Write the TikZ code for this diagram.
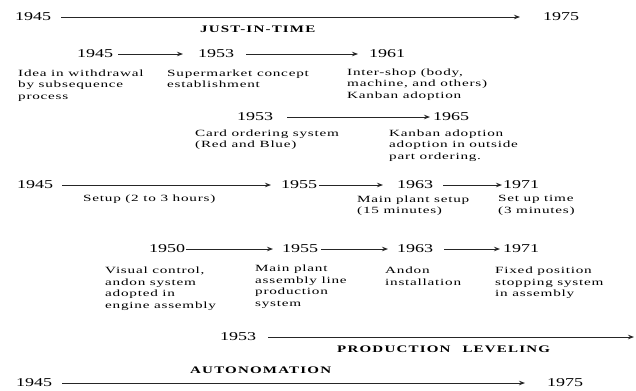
\documentclass[tikz,border=0pt]{standalone}
\usepackage{fontspec}
\usetikzlibrary{arrows.meta}
\newfontfamily\yearfont[FakeStretch=1.5]{Liberation Serif}
\newfontfamily\bodyfont[FakeStretch=1.6,LetterSpace=8]{Liberation Serif}
\newfontfamily\headfont[FakeStretch=1.5,LetterSpace=12]{Liberation Serif}
\tikzset{
  year/.style={inner sep=0, anchor=west, font=\yearfont\fontsize{12bp}{14bp}\selectfont},
  desc/.style={inner sep=0, anchor=north west, align=left, font=\bodyfont\fontsize{9.5bp}{11.7bp}\selectfont},
  head/.style={inner sep=0, anchor=west, font=\headfont\bfseries\fontsize{10bp}{11bp}\selectfont},
  arr/.style={-{Stealth[length=6bp,width=4.5bp]}, line width=0.9bp, draw=black!85},
}
\begin{document}
\begin{tikzpicture}[x=1bp,y=-1bp]
\useasboundingbox (0,0) rectangle (636,390);
% Row 1
\node[year] (r1a) at (15,17) {1945};
\node[year] (r1b) at (543,17) {1975};
\draw[arr, shorten <=10bp, shorten >=23bp] (r1a.east) -- (r1b.west);
\node[head] (jit) at (200,29) {JUST-IN-TIME};
% Row 2
\node[year] (r2a) at (77,54) {1945};
\node[year] (r2b) at (198,54) {1953};
\node[year] (r2c) at (369,54) {1961};
\draw[arr, shorten <=5bp, shorten >=15bp] (r2a.east) -- (r2b.west);
\draw[arr, shorten <=12bp, shorten >=11bp] (r2b.east) -- (r2c.west);
\node[desc] (t2a) at (18,69.5) {Idea in withdrawal\\by subsequence\\process};
\node[desc] (t2b) at (167,69.5) {Supermarket concept\\establishment};
\node[desc] (t2c) at (347,68.5) {Inter-shop (body,\\machine, and others)\\Kanban adoption};
% Row 3
\node[year] (r3a) at (237,117) {1953};
\node[year] (r3b) at (433,117) {1965};
\draw[arr, shorten <=14bp, shorten >=3bp] (r3a.east) -- (r3b.west);
\node[desc] (t3a) at (195,129.5) {Card ordering system\\(Red and Blue)};
\node[desc] (t3b) at (389,129.5) {Kanban adoption\\adoption in outside\\part ordering.};
% Row 4
\node[year] (r4a) at (17,185) {1945};
\node[year] (r4b) at (281,185) {1955};
\node[year] (r4c) at (397,185) {1963};
\node[year] (r4d) at (503,185) {1971};
\draw[arr, shorten <=9bp, shorten >=10bp] (r4a.east) -- (r4b.west);
\draw[arr, shorten <=2bp, shorten >=14bp] (r4b.east) -- (r4c.west);
\draw[arr, shorten <=10bp, shorten >=1bp] (r4c.east) -- (r4d.west);
\node[desc] (t4a) at (83,194.5) {Setup (2 to 3 hours)};
\node[desc] (t4b) at (357,195.5) {Main plant setup\\(15 minutes)};
\node[desc] (t4c) at (498,195.5) {Set up time\\(3 minutes)};
% Row 5
\node[year] (r5a) at (149,249) {1950};
\node[year] (r5b) at (282,249) {1955};
\node[year] (r5c) at (397,249) {1963};
\node[year] (r5d) at (503,249) {1971};
\draw[arr, shorten <=1bp, shorten >=9bp] (r5a.east) -- (r5b.west);
\draw[arr, shorten <=3bp, shorten >=9bp] (r5b.east) -- (r5c.west);
\draw[arr, shorten <=11bp, shorten >=3bp] (r5c.east) -- (r5d.west);
\node[desc] (t5a) at (105,266.5) {Visual control,\\andon system\\adopted in\\engine assembly};
\node[desc] (t5b) at (255,264.5) {Main plant\\assembly line\\production\\system};
\node[desc] (t5c) at (385,266.5) {Andon\\installation};
\node[desc] (t5d) at (495,266.5) {Fixed position\\stopping system\\in assembly};
% Row 6
\node[year] (r6a) at (220,337) {1953};
\coordinate (r6end) at (634,337);
\draw[arr, shorten <=12bp] (r6a.east) -- (r6end);
\node[head] (pl) at (337,349.5) {PRODUCTION\hspace{12bp}LEVELING};
\node[head] (auto) at (190,370) {AUTONOMATION};
% Row 7
\node[year] (r7a) at (16,383) {1945};
\node[year] (r7b) at (547,383) {1975};
\draw[arr, shorten <=10bp, shorten >=22bp] (r7a.east) -- (r7b.west);
\end{tikzpicture}
\end{document}
